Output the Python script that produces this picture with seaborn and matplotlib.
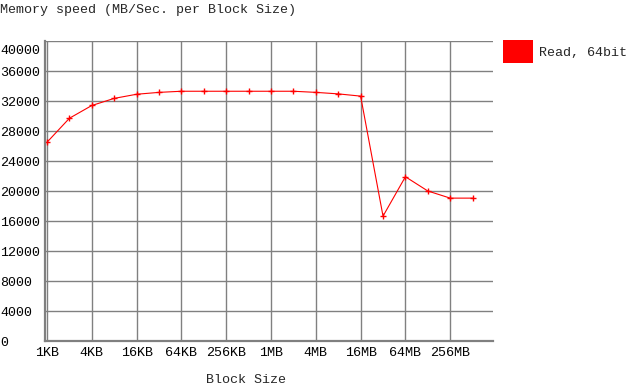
import matplotlib
matplotlib.use("Agg")
import matplotlib.pyplot as plt
import matplotlib.transforms as mtransforms
from matplotlib.patches import Patch
import seaborn as sns
import pandas as pd

# ---- data ----
block_sizes = ["1KB", "2KB", "4KB", "8KB", "16KB", "32KB", "64KB", "128KB", "256KB", "512KB",
               "1MB", "2MB", "4MB", "8MB", "16MB", "32MB", "64MB", "128MB", "256MB", "512MB"]
read_64bit = [26500, 29700, 31400, 32350, 32900, 33150, 33300, 33300, 33300, 33300,
              33300, 33300, 33150, 32950, 32650, 16650, 21900, 20000, 19050, 19050]
x_tick_labels = ["1KB", "4KB", "16KB", "64KB", "256KB", "1MB", "4MB", "16MB", "64MB", "256MB"]
y_ticks = [0, 4000, 8000, 12000, 16000, 20000, 24000, 28000, 32000, 36000, 40000]
series_name = "Read, 64bit"

df = pd.DataFrame({"idx": list(range(len(block_sizes))), "speed": read_64bit, "block": block_sizes})

FONT = "Liberation Mono"
FS = 9.6
GRID = "#808080"

sns.set_style("white")
plt.rcParams["font.family"] = [FONT, "DejaVu Sans Mono"]

fig = plt.figure(figsize=(6.26, 3.89), dpi=100)
W, H = 626, 389
left, right, top, bottom = 45, 493, 41, 341
ax = fig.add_axes([left / W, 1 - bottom / H, (right - left) / W, (bottom - top) / H])

sns.lineplot(data=df, x="idx", y="speed", ax=ax, color="#ff0000", linewidth=0.8,
             marker="+", markersize=5, markeredgewidth=1.0, markeredgecolor="#ff0000",
             legend=False)

x0 = -0.09
ax.set_xlim(x0, x0 + (right - left) / 22.4)
ax.set_ylim(0, 40000)

ax.set_xticks(list(range(0, 20, 2)))
ax.set_xticklabels(x_tick_labels, fontsize=FS, family=FONT)
ax.set_yticks(y_ticks)
ax.set_yticklabels([str(v) for v in y_ticks], fontsize=FS, family=FONT, ha="left")

ax.tick_params(axis="both", length=0, colors="black")
ax.tick_params(axis="x", pad=4.5)
ax.tick_params(axis="y", pad=left * 0.72)

ax.grid(True, color=GRID, linewidth=1.0)
for s in ["top", "right"]:
    ax.spines[s].set_visible(False)
for s in ["left", "bottom"]:
    ax.spines[s].set_color(GRID)
    ax.spines[s].set_linewidth(1.6)

# top y label sits a little below its gridline in the reference
for lab in ax.get_yticklabels():
    if lab.get_text() == "40000":
        lab.set_transform(lab.get_transform() +
                          mtransforms.ScaledTranslation(0, -9 / 100, fig.dpi_scale_trans))

ax.set_ylabel("")
ax.set_xlabel("Block Size", fontsize=FS, family=FONT)
ax.xaxis.set_label_coords((246 - left) / (right - left), -(380 - bottom) / (bottom - top))
ax.xaxis.label.set_va("center")

fig.text(0, 1 - 10 / H, "Memory speed (MB/Sec. per Block Size)", fontsize=FS, family=FONT,
         ha="left", va="center")

handle = Patch(facecolor="#ff0000", edgecolor="none")
fig.legend([handle], [series_name], loc="upper left",
           bbox_to_anchor=(503 / W, 1 - 40 / H), frameon=False,
           prop={"family": FONT, "size": FS}, handlelength=2.25, handleheight=2.25,
           handletextpad=0.45, borderpad=0, borderaxespad=0)

fig.savefig("out.png", dpi=100)
